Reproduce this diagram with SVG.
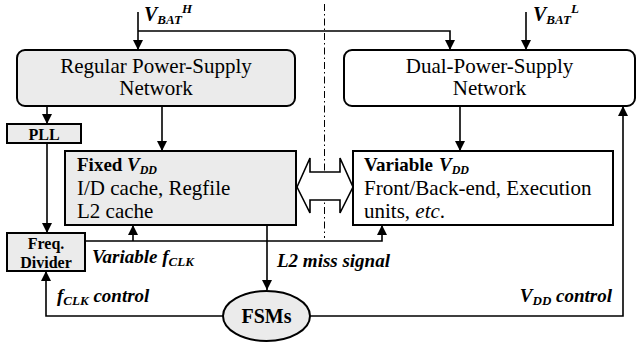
<svg xmlns="http://www.w3.org/2000/svg" width="637" height="343" viewBox="0 0 637 343">
  <style>
    .box { stroke: #000; stroke-width: 2; }
    .gray { fill: #ebebeb; }
    .white { fill: #fff; }
    .arr { fill: none; stroke: #000; stroke-width: 1.6; marker-end: url(#ah); }
    .t { font-family: "Liberation Serif", "Times New Roman", serif; fill: #000; }
    .body { font-size: 21px; }
    .head { font-size: 19px; font-weight: bold; }
    .lbl { font-size: 19px; font-weight: bold; font-style: italic; }
    .small { font-size: 16px; font-weight: bold; }
  </style>
  <defs>
    <marker id="ah" viewBox="0 0 10 10" refX="10" refY="5" markerWidth="10" markerHeight="10" markerUnits="userSpaceOnUse" orient="auto">
      <path d="M0,0 L10,5 L0,10 Z" fill="#000"/>
    </marker>
  </defs>

  <!-- divider between the two supply domains -->
  <line x1="324.5" y1="4" x2="324.5" y2="238" stroke="#000" stroke-width="1" stroke-dasharray="7 3 1.5 3"/>

  <g id="connectors">
    <!-- battery inputs -->
    <path class="arr" d="M138,12 V50"/>
    <path class="arr" d="M138,31 H450 V50"/>
    <path class="arr" d="M526,12 V50"/>
    <!-- supply networks to domains -->
    <path class="arr" d="M47,106 V124"/>
    <path class="arr" d="M162,106 V151"/>
    <path class="arr" d="M460,106 V151"/>
    <!-- clock path -->
    <path class="arr" d="M47,143 V233"/>
    <path class="arr" d="M85,241 H382 V225"/>
    <path class="arr" d="M133,241 V225"/>
    <!-- L2 miss signal -->
    <path class="arr" d="M267,225 V290"/>
    <!-- control loops -->
    <path class="arr" d="M223,316 H46 V271"/>
    <path class="arr" d="M310,316 H623 V106"/>
    <!-- bidirectional link between domains -->
    <path d="M297,187 L310,158 V172 H340 V158 L353,187 L340,213 V200 H310 V213 Z" fill="#fff" stroke="#000" stroke-width="1.6" stroke-linejoin="miter"/>
  </g>

  <g id="vbat-h">
    <text class="t" x="144" y="21" font-size="20" font-weight="bold" font-style="italic">V<tspan font-size="13" dy="3">BAT</tspan><tspan font-size="13" dy="-11">H</tspan></text>
  </g>
  <g id="vbat-l">
    <text class="t" x="533" y="21" font-size="20" font-weight="bold" font-style="italic">V<tspan font-size="13" dy="3">BAT</tspan><tspan font-size="13" dy="-11">L</tspan></text>
  </g>

  <g id="regular-psn">
    <rect class="box gray" x="17" y="50" width="278" height="56" rx="8"/>
    <text class="t body" x="156" y="73" text-anchor="middle">Regular Power-Supply</text>
    <text class="t body" x="156" y="95" text-anchor="middle">Network</text>
  </g>

  <g id="dual-psn">
    <rect class="box white" x="344" y="50" width="291" height="56" rx="8"/>
    <text class="t body" x="489.5" y="73" text-anchor="middle">Dual-Power-Supply</text>
    <text class="t body" x="489.5" y="95" text-anchor="middle">Network</text>
  </g>

  <g id="pll">
    <rect class="box gray" x="7" y="124" width="74" height="19"/>
    <text class="t small" x="44" y="140" text-anchor="middle">PLL</text>
  </g>

  <g id="fixed-vdd">
    <rect class="box gray" x="65" y="151" width="231" height="74"/>
    <text class="t head" x="77" y="171">Fixed</text>
    <text class="t head" x="127" y="171" font-style="italic">V<tspan font-size="12" dy="2.5">DD</tspan></text>
    <text class="t body" x="77" y="195">I/D cache, Regfile</text>
    <text class="t body" x="77" y="218">L2 cache</text>
  </g>

  <g id="variable-vdd">
    <rect class="box white" x="353" y="151" width="260" height="74"/>
    <text class="t head" x="364" y="171">Variable</text>
    <text class="t head" x="439" y="171" font-style="italic">V<tspan font-size="12" dy="2.5">DD</tspan></text>
    <text class="t body" x="364" y="195">Front/Back-end, Execution</text>
    <text class="t body" x="364" y="218">units, <tspan font-style="italic">etc</tspan>.</text>
  </g>

  <g id="freq-divider">
    <rect class="box gray" x="7" y="233" width="78" height="38"/>
    <text class="t small" x="46" y="249" text-anchor="middle">Freq.</text>
    <text class="t small" x="46" y="268" text-anchor="middle">Divider</text>
  </g>

  <g id="fsms">
    <ellipse class="box gray" cx="266.5" cy="316" rx="43.5" ry="25"/>
    <text class="t" x="266.5" y="323" text-anchor="middle" font-size="20" font-weight="bold">FSMs</text>
  </g>

  <g id="labels">
    <text class="t lbl" x="92" y="263">Variable f<tspan font-size="13" dy="3">CLK</tspan></text>
    <text class="t lbl" x="277" y="267">L2 miss signal</text>
    <text class="t lbl" x="57" y="302">f<tspan font-size="13" dy="3">CLK</tspan><tspan dy="-3"> control</tspan></text>
    <text class="t lbl" x="612" y="302" text-anchor="end">V<tspan font-size="13" dy="3">DD</tspan><tspan dy="-3"> control</tspan></text>
  </g>
</svg>
